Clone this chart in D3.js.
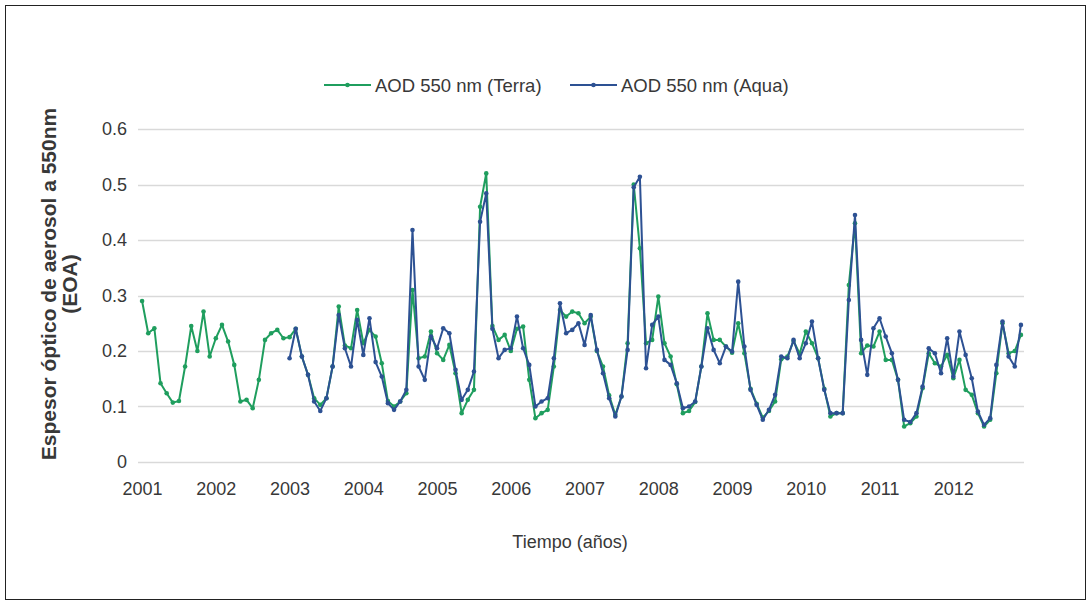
<!DOCTYPE html>
<html>
<head>
<meta charset="utf-8">
<script src="https://cdn.jsdelivr.net/npm/d3@7"></script>
<style>
  body { margin: 0; background: #fff; }
  svg { display: block; font-family: "Liberation Sans", Arial, sans-serif; }
</style>
</head>
<body>
<script>
'use strict';

// years shown on the x axis, one label per January
const years = [2001, 2002, 2003, 2004, 2005, 2006, 2007, 2008, 2009, 2010, 2011, 2012];
const yTicks = [0, 0.1, 0.2, 0.3, 0.4, 0.5, 0.6];

// monthly AOD 550 nm, Terra, Jan 2001 - Dec 2012
const terra = [
  0.290, 0.232, 0.241, 0.142, 0.124, 0.107, 0.110, 0.172, 0.245, 0.200, 0.271, 0.190,
  0.223, 0.247, 0.217, 0.175, 0.109, 0.112, 0.097, 0.148, 0.220, 0.232, 0.238, 0.223,
  0.225, 0.240, 0.190, 0.157, 0.115, 0.103, 0.115, 0.172, 0.280, 0.210, 0.205, 0.274,
  0.214, 0.238, 0.226, 0.178, 0.110, 0.100, 0.109, 0.124, 0.310, 0.187, 0.190, 0.235,
  0.196, 0.184, 0.211, 0.160, 0.088, 0.112, 0.130, 0.460, 0.520, 0.245, 0.220, 0.229,
  0.200, 0.240, 0.244, 0.148, 0.079, 0.088, 0.094, 0.172, 0.274, 0.262, 0.271, 0.268,
  0.250, 0.262, 0.200, 0.172, 0.120, 0.085, 0.118, 0.214, 0.500, 0.385, 0.214, 0.220,
  0.298, 0.214, 0.190, 0.140, 0.088, 0.092, 0.108, 0.172, 0.268, 0.220, 0.220, 0.208,
  0.197, 0.250, 0.196, 0.132, 0.105, 0.080, 0.092, 0.109, 0.185, 0.190, 0.218, 0.195,
  0.235, 0.214, 0.187, 0.132, 0.082, 0.088, 0.088, 0.319, 0.430, 0.196, 0.210, 0.208,
  0.235, 0.184, 0.184, 0.148, 0.064, 0.070, 0.082, 0.133, 0.196, 0.178, 0.172, 0.193,
  0.151, 0.184, 0.130, 0.121, 0.088, 0.064, 0.076, 0.160, 0.250, 0.196, 0.200, 0.229
];

// monthly AOD 550 nm, Aqua, Jan 2003 - Dec 2012
const aquaStart = 2003;
const aqua = [
  0.187, 0.240, 0.190, 0.157, 0.109, 0.092, 0.115, 0.172, 0.265, 0.205, 0.172, 0.256,
  0.193, 0.259, 0.180, 0.154, 0.106, 0.094, 0.109, 0.130, 0.418, 0.172, 0.148, 0.226,
  0.205, 0.241, 0.232, 0.166, 0.112, 0.130, 0.163, 0.433, 0.484, 0.240, 0.187, 0.202,
  0.205, 0.262, 0.205, 0.175, 0.100, 0.109, 0.115, 0.187, 0.286, 0.232, 0.238, 0.250,
  0.211, 0.265, 0.202, 0.160, 0.115, 0.082, 0.118, 0.202, 0.495, 0.514, 0.169, 0.247,
  0.262, 0.184, 0.175, 0.142, 0.097, 0.100, 0.109, 0.172, 0.241, 0.202, 0.178, 0.208,
  0.199, 0.325, 0.208, 0.130, 0.103, 0.076, 0.094, 0.121, 0.190, 0.187, 0.220, 0.187,
  0.214, 0.253, 0.187, 0.130, 0.088, 0.088, 0.088, 0.292, 0.445, 0.220, 0.157, 0.241,
  0.259, 0.226, 0.196, 0.148, 0.076, 0.072, 0.088, 0.136, 0.205, 0.196, 0.160, 0.223,
  0.154, 0.235, 0.193, 0.151, 0.091, 0.067, 0.079, 0.175, 0.253, 0.190, 0.172, 0.247
];

const seriesNames = ["AOD 550 nm (Terra)", "AOD 550 nm (Aqua)"];
const seriesColors = ["#1f9e5e", "#2d5193"];

const width = 1091, height = 605;
const textColor = '#383838';
const font = '"Liberation Sans", Arial, sans-serif';

// one category per month
const months = [];
years.forEach(function(y) {
  for (let m = 0; m < 12; m++) months.push(y + "-" + m);
});

const terraData = terra.map((v, i) => ({ key: months[i], value: v }));
const aquaOffset = months.indexOf(aquaStart + "-0");
const aquaData = aqua.map((v, i) => ({ key: months[aquaOffset + i], value: v }));

const svg = d3.select('body').append('svg')
  .attr('width', width)
  .attr('height', height);

// frame around the picture
svg.append('rect')
  .attr('x', 5.5).attr('y', 5.5)
  .attr('width', 1080).attr('height', 594)
  .attr('fill', 'none')
  .attr('stroke', '#222')
  .attr('stroke-width', 1);

const xScale = d3.scalePoint()
  .domain(months)
  .range([139, 1024])
  .padding(0.5);

const yScale = d3.scaleLinear()
  .domain([0, 0.6])
  .range([462, 129]);

// gridlines
svg.append('g')
  .selectAll('line')
  .data(yTicks)
  .enter()
  .append('line')
    .attr('x1', 138)
    .attr('x2', 1024)
    .attr('y1', d => Math.round(yScale(d)) + 0.5)
    .attr('y2', d => Math.round(yScale(d)) + 0.5)
    .attr('stroke', '#d9d9d9')
    .attr('stroke-width', 1.3);

// y axis labels
const yAxis = d3.axisLeft(yScale)
  .tickValues(yTicks)
  .tickFormat(d => d === 0 ? "0" : d3.format(".1f")(d))
  .tickSize(0)
  .tickPadding(0);
const gy = svg.append('g')
  .attr('transform', 'translate(127, 0)')
  .call(yAxis);
gy.select('.domain').remove();
gy.selectAll('text')
  .attr('fill', textColor)
  .style('font-size', '18px')
  .style('font-family', font);

// x axis labels
const xAxis = d3.axisBottom(xScale)
  .tickValues(years.map(y => y + "-0"))
  .tickFormat(d => d.split("-")[0])
  .tickSize(0)
  .tickPadding(0);
const gx = svg.append('g')
  .attr('transform', 'translate(0, 482)')
  .call(xAxis);
gx.select('.domain').remove();
gx.selectAll('text')
  .attr('fill', textColor)
  .style('font-size', '18px')
  .style('font-family', font);

// series
function drawSeries(data, color) {
  const line = d3.line()
    .x(d => xScale(d.key))
    .y(d => yScale(d.value));
  svg.append('path')
    .datum(data)
    .attr('fill', 'none')
    .attr('stroke', color)
    .attr('stroke-width', 2)
    .attr('stroke-linejoin', 'round')
    .attr('d', line);
  svg.append('g')
    .selectAll('circle')
    .data(data)
    .enter()
    .append('circle')
      .attr('cx', d => xScale(d.key))
      .attr('cy', d => yScale(d.value))
      .attr('r', 2.3)
      .attr('fill', color);
}
drawSeries(terraData, seriesColors[0]);
drawSeries(aquaData, seriesColors[1]);

// legend
const legendX = [324, 570];
seriesNames.forEach(function(name, i) {
  const g = svg.append('g').attr('transform', 'translate(' + legendX[i] + ', 85)');
  g.append('line')
    .attr('x1', 0).attr('x2', 47)
    .attr('y1', 0).attr('y2', 0)
    .attr('stroke', seriesColors[i])
    .attr('stroke-width', 2);
  g.append('circle')
    .attr('cx', 23.5).attr('cy', 0).attr('r', 2.3)
    .attr('fill', seriesColors[i]);
  g.append('text')
    .attr('x', 51)
    .attr('y', 6.5)
    .attr('fill', textColor)
    .style('font-size', '18.5px')
    .text(name);
});

// axis titles
svg.append('text')
  .attr('x', 570)
  .attr('y', 548)
  .attr('text-anchor', 'middle')
  .attr('fill', textColor)
  .style('font-size', '18px')
  .text('Tiempo (años)');

const yTitle = svg.append('text')
  .attr('transform', 'translate(56, 284) rotate(-90)')
  .attr('text-anchor', 'middle')
  .attr('fill', textColor)
  .style('font-size', '21px')
  .style('font-weight', 'bold');
yTitle.append('tspan')
  .attr('x', 0).attr('dy', 0)
  .text('Espesor óptico de aerosol a 550nm');
yTitle.append('tspan')
  .attr('x', 0).attr('dy', 21)
  .text('(EOA)');
</script>
</body>
</html>
